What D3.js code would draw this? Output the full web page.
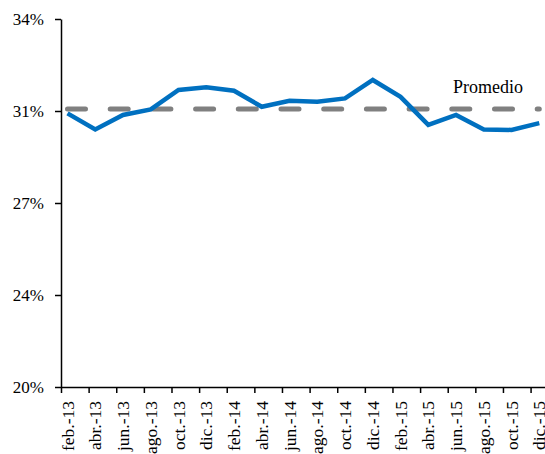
<!DOCTYPE html>
<html><head><meta charset="utf-8">
<script src="https://cdn.jsdelivr.net/npm/d3@7"></script>
<style>body{margin:0;background:#fff}svg{display:block}
svg text{font-family:"Liberation Serif","Times New Roman",Tinos,"DejaVu Serif",serif;}
</style>
</head><body>
<script>
const categories = ["feb.-13","abr.-13","jun.-13","ago.-13","oct.-13","dic.-13","feb.-14","abr.-14","jun.-14","ago.-14","oct.-14","dic.-14","feb.-15","abr.-15","jun.-15","ago.-15","oct.-15","dic.-15"];
const values = [30.41,29.8,30.35,30.56,31.3,31.4,31.27,30.66,30.89,30.85,30.98,31.68,31.04,29.97,30.35,29.8,29.78,30.04];
const promedio = [30.58,30.58,30.58,30.58,30.58,30.58,30.58,30.58,30.58,30.58,30.58,30.58,30.58,30.58,30.58,30.58,30.58,30.58];
const yTicks = [20,23.5,27,30.5,34];
const yTickLabels = ["20%","24%","27%","31%","34%"];
const promedioLabel = "Promedio";

const W = 545, H = 454;
const svg = d3.select("body").append("svg").attr("width", W).attr("height", H);

const y = d3.scaleLinear().domain([20,34]).range([387,19]);
const x = d3.scaleLinear().domain([0,17]).range([67.5,539.3]);
const xb = d3.scaleLinear().domain([0,18]).range([61,558.2]);

const line = d3.line().x((d,i)=>x(i)).y(d=>y(d));
svg.append("path").datum(promedio).attr("d", line)
  .attr("fill","none").attr("stroke","#808080").attr("stroke-width",5)
  .attr("stroke-linecap","round").attr("stroke-dasharray","18,24.7");
svg.append("path").datum(values).attr("d", line)
  .attr("fill","none").attr("stroke","#0070C0").attr("stroke-width",4.5)
  .attr("stroke-linejoin","miter");

const yAxis = d3.axisLeft(y).tickValues(yTicks)
  .tickFormat((d,i)=>yTickLabels[i]).tickSize(6).tickSizeOuter(0).tickPadding(11);
const gy = svg.append("g").attr("transform","translate(61,0)").call(yAxis);
gy.attr("font-family",null).attr("font-size",null);
gy.selectAll("path,line").attr("stroke","#000").attr("stroke-width",1.5);
gy.selectAll("text").attr("font-size",17).attr("fill","#000");

const xAxis = d3.axisBottom(xb).tickValues(d3.range(18)).tickFormat("").tickSize(6).tickSizeOuter(0);
const gx = svg.append("g").attr("transform","translate(0,387)").call(xAxis);
gx.selectAll("path,line").attr("stroke","#000").attr("stroke-width",1.5);

svg.append("g").selectAll("text").data(categories).join("text")
  .attr("transform",(d,i)=>`translate(${x(i)},401) rotate(-90)`)
  .attr("text-anchor","end").attr("dy","0.35em")
  .attr("font-size",17.5).attr("fill","#000")
  .text(d=>d);

svg.append("text").attr("x",453).attr("y",92.5)
  .attr("font-size",18).attr("fill","#000")
  .text(promedioLabel);
</script>
</body></html>
